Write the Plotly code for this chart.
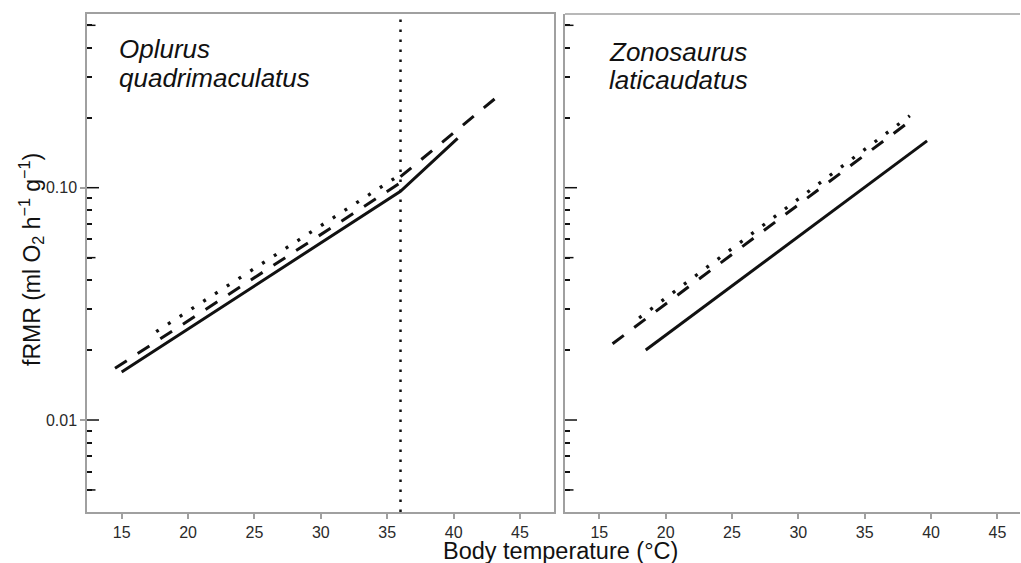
import plotly.graph_objects as go

# ---------------- data ----------------
# Oplurus quadrimaculatus (broken-stick at 36 °C)
oq_solid_temp = [15.0, 36.0, 40.3]
oq_solid_fmr = [0.0161, 0.0965, 0.163]
oq_dashed_temp = [14.5, 36.0, None, 36.0, 43.3]
oq_dashed_fmr = [0.0167, 0.105, None, 0.1115, 0.2466]
oq_dotted_temp = [17.6, 36.0]
oq_dotted_fmr = [0.0240, 0.114]
oq_breakpoint = 36.0

# Zonosaurus laticaudatus
zl_solid_temp = [18.5, 39.7]
zl_solid_fmr = [0.0200, 0.159]
zl_dashed_temp = [16.0, 38.5]
zl_dashed_fmr = [0.0213, 0.195]
zl_dotted_temp = [18.0, 38.4]
zl_dotted_fmr = [0.0275, 0.204]

x_tickvals = [15, 20, 25, 30, 35, 40, 45]
y_major = [0.01, 0.1]
y_major_text = ["0.01", "0.10"]
y_minor = [0.005, 0.006, 0.007, 0.008, 0.009,
           0.02, 0.03, 0.04, 0.05, 0.06, 0.07, 0.08, 0.09,
           0.2, 0.3, 0.4, 0.5]
y_medium = [0.005, 0.05, 0.5]

# ---------------- geometry ----------------
W, H = 1021, 563
L1, R1 = 87, 554
L2, R2 = 565, 1020
TOP, BOT = 14, 512
xr1 = [12.39, 47.56]
xr2 = [12.415, 12.415 + (R2 - L2) / 13.27]
yr = [-2.396, -0.2523]

FRAME = "#a0a0a0"
INK = "#111111"
FONT = "Liberation Sans, Arial, sans-serif"

def px(xp):
    return xp / W

def py(yp):
    return (H - yp) / H

fig = go.Figure()

def add_line(x, y, dash, xa, ya, width=3):
    fig.add_trace(go.Scatter(x=x, y=y, mode="lines", xaxis=xa, yaxis=ya,
                             line=dict(color=INK, width=width, dash=dash),
                             connectgaps=False, showlegend=False, hoverinfo="skip"))

DASH = "14px,13px"
DOT = "3px,11px"

add_line(oq_solid_temp, oq_solid_fmr, "solid", "x", "y")
add_line(oq_dashed_temp, oq_dashed_fmr, DASH, "x", "y")
add_line(oq_dotted_temp, oq_dotted_fmr, DOT, "x", "y", width=3.3)

add_line(zl_solid_temp, zl_solid_fmr, "solid", "x2", "y2")
add_line(zl_dashed_temp, zl_dashed_fmr, DASH, "x2", "y2")
add_line(zl_dotted_temp, zl_dotted_fmr, DOT, "x2", "y2", width=3.3)

tickfont = dict(family=FONT, size=16, color="#2a2a2a")

fig.update_layout(
    width=W, height=H,
    margin=dict(l=0, r=0, t=0, b=0),
    paper_bgcolor="white", plot_bgcolor="white",
    showlegend=False,
    xaxis=dict(domain=[px(L1), px(R1)], range=xr1, anchor="y",
               tickmode="array", tickvals=x_tickvals,
               ticks="outside", ticklen=5, tickwidth=1.5, tickcolor=FRAME,
               showline=True, linecolor=FRAME, linewidth=1.5, mirror=True,
               showgrid=False, zeroline=False, tickfont=tickfont),
    xaxis2=dict(domain=[px(L2), px(R2)], range=xr2, anchor="y2",
                tickmode="array", tickvals=x_tickvals,
                ticks="outside", ticklen=5, tickwidth=1.5, tickcolor=FRAME,
                showline=True, linecolor=FRAME, linewidth=1.5, mirror=False,
                showgrid=False, zeroline=False, tickfont=tickfont),
    yaxis=dict(domain=[py(BOT), py(TOP)], type="log", range=yr, anchor="x",
               tickmode="array", tickvals=y_major, ticktext=y_major_text,
               ticks="outside", ticklen=5, tickwidth=1.5, tickcolor=FRAME,
               minor=dict(tickmode="array", tickvals=y_minor, ticks="inside",
                          ticklen=5, tickwidth=1.5, tickcolor=INK, showgrid=False),
               showline=True, linecolor=FRAME, linewidth=1.5, mirror=True,
               showgrid=False, zeroline=False, tickfont=tickfont),
    yaxis2=dict(domain=[py(BOT), py(TOP)], type="log", range=yr, anchor="x2",
                tickmode="array", tickvals=y_major, ticktext=y_major_text,
                ticks="", showticklabels=False,
                minor=dict(tickmode="array", tickvals=y_minor, ticks="inside",
                           ticklen=5, tickwidth=1.5, tickcolor=INK, showgrid=False),
                showline=True, linecolor=FRAME, linewidth=1.5, mirror=False,
                showgrid=False, zeroline=False),
)

shapes = []
# top border of the right panel (its right side is cut off in the reference)
shapes.append(dict(type="line", xref="x2 domain", yref="y2 domain", x0=0, x1=1, y0=1, y1=1,
                   line=dict(color=FRAME, width=1.5)))
# vertical dotted breakpoint line
shapes.append(dict(type="line", xref="x", yref="y domain", x0=oq_breakpoint, x1=oq_breakpoint,
                   y0=0, y1=1, line=dict(color=INK, width=2.5, dash="2.5px,7.5px")))
# inside parts of major / medium ticks
for xa, wpx in (("x", R1 - L1), ("x2", R2 - L2)):
    ya = "y" if xa == "x" else "y2"
    for v in y_major:
        shapes.append(dict(type="line", xref=f"{xa} domain", yref=ya, x0=0, x1=12 / wpx,
                           y0=v, y1=v, line=dict(color=INK, width=1.5)))
    for v in y_medium:
        shapes.append(dict(type="line", xref=f"{xa} domain", yref=ya, x0=0, x1=8.5 / wpx,
                           y0=v, y1=v, line=dict(color=INK, width=1.5)))
fig.update_layout(shapes=shapes)

ann = []
sp_font = dict(family=FONT, size=26, color=INK)
for txt, xp, yp in (("Oplurus", 117, 49), ("quadrimaculatus", 117, 78),
                    ("Zonosaurus", 607, 52), ("laticaudatus", 607, 80)):
    ann.append(dict(text=f"<i>{txt}</i>", xref="paper", yref="paper", x=px(xp), y=py(yp),
                    xanchor="left", yanchor="middle", showarrow=False, font=sp_font))
ann.append(dict(text="Body temperature (°C)", xref="paper", yref="paper",
                x=px(560), y=py(551), xanchor="center", yanchor="middle", showarrow=False,
                font=dict(family=FONT, size=23.5, color=INK)))
ann.append(dict(text="fRMR (ml O<sub>2</sub> h<sup>−1</sup> g<sup>−1</sup>)", xref="paper", yref="paper",
                x=px(31), y=py(260), xanchor="center", yanchor="middle", textangle=-90,
                showarrow=False, font=dict(family=FONT, size=23, color=INK)))
fig.update_layout(annotations=ann)

fig.write_html("out.html")
